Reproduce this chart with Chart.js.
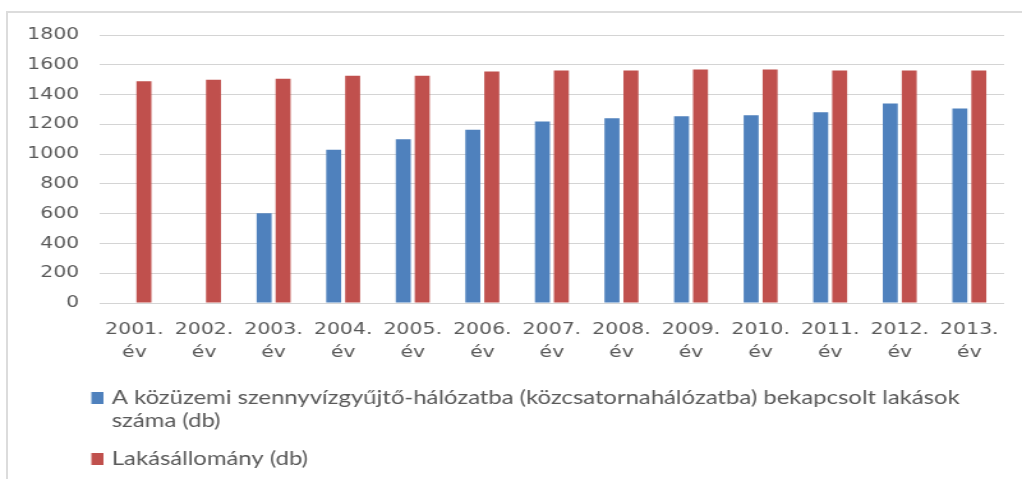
<!DOCTYPE html>
<html>
<head>
<meta charset="utf-8">
<script src="https://cdn.jsdelivr.net/npm/chart.js@4.4.1/dist/chart.umd.min.js"></script>
<style>
  html, body { margin: 0; padding: 0; background: #fff; overflow: hidden; }
  #frame { position: absolute; left: 6px; top: 11px; width: 1100px; height: 600px;
           border-left: 2px solid #dcdcdc; border-top: 2px solid #dcdcdc; }
  /* the original picture is stretched sideways, so the chart is drawn 800px wide and scaled */
  #wrap { position: absolute; left: 0; top: 0; width: 800px; height: 479px;
          transform: scaleX(1.2775); transform-origin: 0 0; }
</style>
</head>
<body>
<div id="frame"></div>
<div id="wrap"><canvas id="myChart"></canvas></div>
<script>
// adatok
const years = ['2001.', '2002.', '2003.', '2004.', '2005.', '2006.', '2007.',
  '2008.', '2009.', '2010.', '2011.', '2012.', '2013.'];
const connected = [null, null, 603, 1029, 1100, 1163, 1219, 1241, 1255, 1261, 1281, 1340, 1306];
const stock = [1490, 1499, 1506, 1526, 1526, 1555, 1561, 1561, 1568, 1568, 1561, 1561, 1561];
const yTicks = [0, 200, 400, 600, 800, 1000, 1200, 1400, 1600, 1800];

const label1 = ['A közüzemi szennyvízgyűjtő-hálózatba (közcsatornahálózatba) bekapcsolt lakások', 'száma (db)'];
const label2 = ['Lakásállomány (db)'];

const textColor = '#595959';

Chart.defaults.font.family = 'DejaVu Sans, Verdana, sans-serif';
Chart.defaults.color = textColor;

// saját jelmagyarázat (alul, egymás alatt)
const bottomLegend = {
  id: 'bottomLegend',
  afterDraw(chart) {
    const ctx = chart.ctx;
    const rows = [{ box: 392, lines: [398, 421] }, { box: 453, lines: [459] }];
    ctx.save();
    ctx.font = '18.7px Lato';
    ctx.textBaseline = 'middle';
    chart.data.datasets.forEach((ds, i) => {
      const r = rows[i];
      ctx.fillStyle = ds.backgroundColor;
      ctx.fillRect(71.5, r.box, 9.5, 12);
      ctx.fillStyle = textColor;
      ds.legendText.forEach((t, j) => ctx.fillText(t, 87.5, r.lines[j]));
    });
    ctx.restore();
  }
};

const ctx = document.getElementById('myChart');

new Chart(ctx, {
  type: 'bar',
  data: {
    labels: years.map(y => [y, 'év']),
    datasets: [
      {
        label: label1.join(' '),
        legendText: label1,
        data: connected,
        backgroundColor: '#4F81BD',
        categoryPercentage: 0.545,
        barPercentage: 0.79
      },
      {
        label: label2.join(' '),
        legendText: label2,
        data: stock,
        backgroundColor: '#C0504D',
        categoryPercentage: 0.545,
        barPercentage: 0.79
      }
    ]
  },
  options: {
    responsive: true,
    maintainAspectRatio: false,
    animation: false,
    devicePixelRatio: 1,
    layout: { padding: { left: 0, right: 14, top: 35, bottom: 116 } },
    plugins: {
      legend: { display: false },
      tooltip: { enabled: false }
    },
    scales: {
      x: {
        grid: { display: false, drawTicks: false },
        border: { display: false },
        ticks: {
          color: textColor,
          padding: 15,
          maxRotation: 0,
          autoSkip: false,
          font: { size: 16, lineHeight: 1.44 }
        },
        afterFit: s => { s.height = 60; }
      },
      y: {
        min: yTicks[0],
        max: yTicks[yTicks.length - 1],
        grid: { color: '#d4d4d4', drawTicks: false },
        border: { display: false },
        ticks: {
          stepSize: yTicks[1] - yTicks[0],
          color: textColor,
          padding: 16,
          font: { size: 16 },
          callback: v => String(v)
        },
        afterFit: s => { s.width = 78; }
      }
    }
  },
  plugins: [bottomLegend]
});
</script>
</body>
</html>
